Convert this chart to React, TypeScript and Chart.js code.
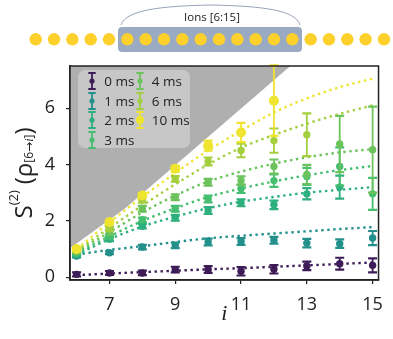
import React, { useEffect, useRef } from 'react';
import { Chart, registerables } from 'chart.js';

Chart.register(...registerables);

// ---------- data ----------
const sites = [6, 7, 8, 9, 10, 11, 12, 13, 14, 15];
const seriesLabels = ['0 ms', '1 ms', '2 ms', '3 ms', '4 ms', '6 ms', '10 ms'];
const seriesColors = ['#3d1c57', '#23908b', '#2db07e', '#45be6f', '#6cc35c', '#a3cf3e', '#efe42f'];

const s0 = [0.10, 0.15, 0.15, 0.27, 0.27, 0.21, 0.28, 0.40, 0.48, 0.42];
const s1 = [0.75, 0.87, 1.07, 1.13, 1.25, 1.27, 1.31, 1.21, 1.19, 1.39];
const s2 = [0.80, 1.35, 1.81, 2.11, 2.37, 2.64, 2.57, 2.96, 3.20, null];
const s3 = [0.85, 1.45, 2.04, 2.43, 2.78, 3.14, 3.43, 3.58, 3.93, 2.96];
const s4 = [0.90, 1.60, 2.43, 2.84, 3.37, 3.43, 3.93, 3.65, 4.73, 4.53];
const s6 = [0.95, 1.72, 2.75, 3.49, 4.11, 4.50, 4.85, 5.06, null, null];
const s10 = [1.00, 1.96, 2.90, 3.85, 4.67, 5.14, 6.27, null, null, null];

const e0 = [0.07, 0.07, 0.08, 0.10, 0.12, 0.15, 0.15, 0.15, 0.21, 0.25];
const e1 = [0.05, 0.05, 0.08, 0.10, 0.12, 0.12, 0.12, 0.15, 0.15, 0.25];
const e2 = [0.05, 0.07, 0.08, 0.10, 0.12, 0.12, 0.15, 0.20, 0.41, null];
const e3 = [0.05, 0.07, 0.08, 0.10, 0.12, 0.15, 0.22, 0.30, 0.68, 0.57];
const e4 = [0.05, 0.07, 0.10, 0.10, 0.12, 0.15, 0.25, 0.34, 1.00, 1.53];
const e6 = [0.05, 0.07, 0.10, 0.10, 0.14, 0.24, 0.43, 0.76, null, null];
const e10 = [0.05, 0.07, 0.08, 0.10, 0.18, 0.34, 1.25, null, null, null];

const f0 = [0.07, 0.13, 0.18, 0.23, 0.28, 0.32, 0.37, 0.42, 0.47, 0.52];
const f1 = [0.80, 0.97, 1.10, 1.25, 1.38, 1.47, 1.55, 1.63, 1.71, 1.78];
const f2 = [0.80, 1.35, 1.80, 2.15, 2.45, 2.68, 2.85, 3.00, 3.10, 3.20];
const f3 = [0.85, 1.45, 2.00, 2.45, 2.85, 3.15, 3.40, 3.62, 3.80, 3.95];
const f4 = [0.90, 1.60, 2.30, 2.90, 3.40, 3.75, 4.03, 4.26, 4.43, 4.55];
const f6 = [0.95, 1.75, 2.55, 3.30, 4.00, 4.60, 5.05, 5.45, 5.80, 6.10];
const f10 = [1.00, 1.95, 2.85, 3.70, 4.50, 5.20, 5.85, 6.35, 6.75, 7.05];

const boundX = [5.8, 7.5, 12.5];
const boundY = [1.03, 2.47, 7.5];

const xTicks = [7, 9, 11, 13, 15];
const yTicks = [0, 2, 4, 6];

const seriesValues = [s0, s1, s2, s3, s4, s6, s10];
const seriesErrors = [e0, e1, e2, e3, e4, e6, e10];
const seriesFits = [f0, f1, f2, f3, f4, f6, f10];
const pointRadii = [3.7, 3.7, 3.7, 3.7, 3.7, 3.7, 5];

const FONT = "'Open Sans', 'DejaVu Sans', sans-serif";
const INK = '#222222';

const errorBarPlugin = {
  id: 'errorBars',
  beforeDatasetDraw(chart: any, args: any) {
    const ds = chart.data.datasets[args.index];
    if (!ds.errors) return;
    const xs = chart.scales.x;
    const ys = chart.scales.y;
    const ctx = chart.ctx;
    ctx.save();
    ctx.strokeStyle = ds.backgroundColor;
    ds.data.forEach((p: any, k: number) => {
      const e = ds.errors[k];
      if (p == null || e == null) return;
      const x = xs.getPixelForValue(p.x);
      const yt = ys.getPixelForValue(p.y + e);
      const yb = ys.getPixelForValue(p.y - e);
      ctx.lineWidth = 1.8;
      ctx.beginPath();
      ctx.moveTo(x, yt);
      ctx.lineTo(x, yb);
      ctx.stroke();
      ctx.lineWidth = 2.2;
      ctx.beginPath();
      ctx.moveTo(x - 4.5, yt);
      ctx.lineTo(x + 4.5, yt);
      ctx.moveTo(x - 4.5, yb);
      ctx.lineTo(x + 4.5, yb);
      ctx.stroke();
    });
    ctx.restore();
  },
};

const framePlugin = {
  id: 'frame',
  afterDraw(chart: any) {
    const { ctx, chartArea } = chart;
    ctx.save();
    ctx.strokeStyle = INK;
    ctx.lineWidth = 1.5;
    ctx.strokeRect(chartArea.left, chartArea.top, chartArea.right - chartArea.left, chartArea.bottom - chartArea.top);
    ctx.restore();
  },
};

function buildDatasets() {
  const ds: any[] = [];
  ds.push({
    label: 'bound',
    data: boundX.map((x, k) => ({ x, y: boundY[k] })),
    showLine: true,
    borderWidth: 0,
    borderColor: 'rgba(0,0,0,0)',
    backgroundColor: '#afafaf',
    fill: 'end',
    pointRadius: 0,
    order: 100,
  });
  seriesFits.forEach((f, s) => {
    ds.push({
      label: seriesLabels[s] + ' fit',
      data: sites.map((x, k) => ({ x, y: f[k] })),
      showLine: true,
      borderColor: seriesColors[s],
      borderWidth: 2.4,
      borderDash: [2.4, 3.6],
      cubicInterpolationMode: 'monotone',
      pointRadius: 0,
      fill: false,
      order: 50 - s,
    });
  });
  seriesValues.forEach((vals, s) => {
    const pts: any[] = [];
    const errs: any[] = [];
    vals.forEach((v, k) => {
      if (v == null) return;
      pts.push({ x: sites[k], y: v });
      errs.push(seriesErrors[s][k]);
    });
    ds.push({
      label: seriesLabels[s],
      data: pts,
      errors: errs,
      showLine: false,
      backgroundColor: seriesColors[s],
      borderColor: seriesColors[s],
      borderWidth: 0,
      pointRadius: pointRadii[s],
      order: 10 - s,
    });
  });
  return ds;
}

function LegendMarker({ color, big }: { color: string; big: boolean }) {
  return (
    <svg width={12} height={20} style={{ position: 'absolute', left: -6, top: -10 }}>
      <line x1={6} y1={2} x2={6} y2={18} stroke={color} strokeWidth={1.8} />
      <line x1={2.3} y1={2} x2={9.7} y2={2} stroke={color} strokeWidth={2} />
      <line x1={2.3} y1={18} x2={9.7} y2={18} stroke={color} strokeWidth={2} />
      <circle cx={6} cy={10} r={big ? 4.2 : 2.6} fill={color} />
    </svg>
  );
}

function Legend() {
  return (
    <div
      style={{
        position: 'absolute',
        left: 78,
        top: 70,
        width: 112,
        height: 78,
        background: '#c7c7c7',
        borderRadius: 7,
      }}
    >
      {seriesLabels.map((lab, idx) => {
        const col = idx < 4 ? 0 : 1;
        const row = idx < 4 ? idx : idx - 4;
        const cy = 11 + row * 19.5;
        const mx = col === 0 ? 14.3 : 62;
        const tx = col === 0 ? 26.3 : 73.7;
        return (
          <React.Fragment key={lab}>
            <div style={{ position: 'absolute', left: mx, top: cy, width: 0, height: 0 }}>
              <LegendMarker color={seriesColors[idx]} big={idx === 6} />
            </div>
            <div
              style={{
                position: 'absolute',
                left: tx,
                top: cy - 10,
                height: 20,
                lineHeight: '20px',
                fontFamily: FONT,
                fontSize: 13.5,
                color: INK,
                whiteSpace: 'nowrap',
              }}
            >
              {lab}
            </div>
          </React.Fragment>
        );
      })}
    </div>
  );
}

function IonChain() {
  const ions = Array.from({ length: 20 }, (_, k) => k);
  return (
    <svg width={393} height={60} style={{ position: 'absolute', left: 0, top: 0 }}>
      <rect x={118} y={27} width={184} height={25} rx={4} fill="#9aaac2" />
      <path d="M121,25 C126,10 160,6 211,5 C262,6 296,10 300,25" fill="none" stroke="#7b8aa6" strokeWidth={0.8} />
      <text x={212} y={21} textAnchor="middle" fontFamily={FONT} fontSize={11.5} fill={INK}>
        Ions [6:15]
      </text>
      {ions.map((k) => (
        <circle key={k} cx={35.7 + k * 18.33} cy={39.3} r={6.2} fill="#fdd02c" />
      ))}
    </svg>
  );
}

function YTitle() {
  return (
    <div
      style={{
        position: 'absolute',
        left: 22 - 70,
        top: 173 - 16,
        width: 140,
        height: 32,
        display: 'flex',
        alignItems: 'center',
        justifyContent: 'center',
        transform: 'rotate(-90deg)',
        transformOrigin: '50% 50%',
        fontFamily: FONT,
        color: INK,
        whiteSpace: 'nowrap',
      }}
    >
      <span style={{ fontSize: 24 }}>S</span>
      <span style={{ fontSize: 13, position: 'relative', top: -9 }}>(2)</span>
      <span style={{ fontSize: 24, marginLeft: 6 }}>(</span>
      <span style={{ fontSize: 24 }}>ρ</span>
      <span style={{ fontSize: 12, position: 'relative', top: 6 }}>
        [6→<i style={{ fontFamily: "'Liberation Serif', serif" }}>i</i>]
      </span>
      <span style={{ fontSize: 24 }}>)</span>
    </div>
  );
}

export default function App() {
  const ref = useRef<HTMLCanvasElement | null>(null);
  useEffect(() => {
    if (!ref.current) return;
    const chart = new Chart(ref.current, {
      type: 'scatter',
      data: { datasets: buildDatasets() },
      options: {
        responsive: false,
        animation: false,
        devicePixelRatio: 1,
        layout: { padding: { left: 0, right: 3.5, top: 66, bottom: 0 } },
        plugins: { legend: { display: false }, tooltip: { enabled: false } },
        scales: {
          x: {
            type: 'linear',
            min: 5.8,
            max: 15.18,
            afterBuildTicks: (s: any) => {
              s.ticks = xTicks.map((v) => ({ value: v }));
            },
            afterFit: (s: any) => {
              s.height = 59;
            },
            ticks: { font: { family: FONT, size: 18 }, color: INK, padding: 10, maxRotation: 0 },
            grid: { display: true, drawOnChartArea: false, drawTicks: true, tickLength: 4, color: INK, lineWidth: 1.2 },
            border: { display: true, color: INK, width: 1.5 },
            title: {
              display: true,
              text: 'i',
              color: INK,
              font: { family: "'Liberation Serif', serif", style: 'italic', size: 22 },
              padding: { top: 0, bottom: 12 },
            },
          },
          y: {
            type: 'linear',
            min: -0.1,
            max: 7.5,
            afterBuildTicks: (s: any) => {
              s.ticks = yTicks.map((v) => ({ value: v }));
            },
            afterFit: (s: any) => {
              s.width = 70;
            },
            ticks: { font: { family: FONT, size: 18 }, color: INK, padding: 11 },
            grid: { display: true, drawOnChartArea: false, drawTicks: true, tickLength: 4, color: INK, lineWidth: 1.2 },
            border: { display: true, color: INK, width: 1.5 },
          },
        },
      } as any,
      plugins: [errorBarPlugin, framePlugin],
    });
    return () => chart.destroy();
  }, []);

  return (
    <div style={{ position: 'fixed', left: 0, top: 0, width: 393, height: 339, background: '#ffffff', overflow: 'hidden' }}>
      <canvas ref={ref} width={393} height={339} style={{ display: 'block', position: 'absolute', left: 0, top: 0 }} />
      <IonChain />
      <Legend />
      <YTitle />
    </div>
  );
}
